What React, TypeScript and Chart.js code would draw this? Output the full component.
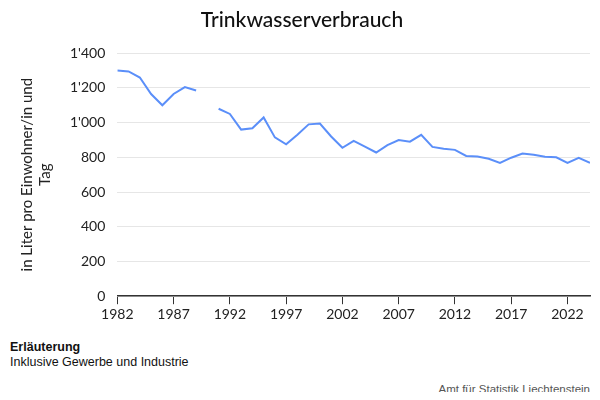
import React, { useEffect, useRef } from "react";
import { Chart, registerables } from "chart.js";
Chart.register(...registerables);

const years: number[] = [];
for (let y = 1982; y <= 2024; y++) years.push(y);
const values: (number | null)[] = [
  1300, 1295, 1260, 1165, 1100, 1165, 1205, 1185, null,
  1080, 1050, 960, 968, 1030, 915, 875, 930, 990, 995,
  920, 855, 895, 862, 828, 870, 900, 890, 930, 860,
  850, 843, 808, 805, 792, 768, 798, 822, 815, 803,
  800, 768, 797, 768,
];
const xTicks = [1982, 1987, 1992, 1997, 2002, 2007, 2012, 2017, 2022];

export default function App() {
  const ref = useRef<HTMLCanvasElement>(null);
  useEffect(() => {
    const ch = new Chart(ref.current!, {
      type: "line",
      data: {
        datasets: [{
          data: years.map((y, i) => ({ x: y, y: values[i] })) as any,
          borderColor: "#5b8ff9",
          borderWidth: 2,
          pointRadius: 0,
          spanGaps: false,
          tension: 0,
        }],
      },
      options: {
        animation: false,
        responsive: false,
        layout: { padding: { left: 14, right: 10, top: 0 } },
        plugins: {
          legend: { display: false },
          tooltip: { enabled: false },
          title: {
            display: true, text: "Trinkwasserverbrauch",
            font: { family: "Lato", size: 21, weight: 500 }, color: "#111",
            padding: { top: 8, bottom: 20 },
          },
        },
        scales: {
          x: {
            type: "linear", min: 1982, max: 2024,
            afterBuildTicks: (s: any) => { s.ticks = xTicks.map((v) => ({ value: v })); },
            grid: { display: true, drawOnChartArea: false, drawTicks: true, tickLength: 8, color: "#333" },
            border: { color: "#333", width: 1.5 },
            ticks: { color: "#222", font: { family: "Lato", size: 14 }, callback: (v: any) => String(v), maxRotation: 0, padding: 2 },
          },
          y: {
            min: 0, max: 1400,
            ticks: {
              stepSize: 200, color: "#222", font: { family: "Lato", size: 14 }, padding: 12,
              callback: (v: any) => String(v).replace(/\B(?=(\d{3})+(?!\d))/g, "'"),
            },
            grid: { color: "#e6e6e6", drawTicks: false },
            border: { display: false },
            title: {
              display: true, text: ["in Liter pro Einwohner/in und", "Tag"],
              color: "#222", font: { family: "Lato", size: 15 }, padding: 4,
            },
          },
        },
      },
    });
    return () => ch.destroy();
  }, []);
  return (
    <div style={{ position: "relative", width: 600, height: 400, margin: -8, fontFamily: "Arial, 'Liberation Sans'" }}>
      <canvas ref={ref} width={600} height={325} style={{ position: "absolute", left: 0, top: 0 }} />
      <div style={{ position: "absolute", left: 10, top: 340, fontSize: 12.5, fontWeight: "bold", color: "#111" }}>Erläuterung</div>
      <div style={{ position: "absolute", left: 10, top: 355, fontSize: 12.5, color: "#111" }}>Inklusive Gewerbe und Industrie</div>
      <div style={{ position: "absolute", right: 10, top: 383, fontSize: 11.5, color: "#555" }}>Amt für Statistik Liechtenstein</div>
    </div>
  );
}
